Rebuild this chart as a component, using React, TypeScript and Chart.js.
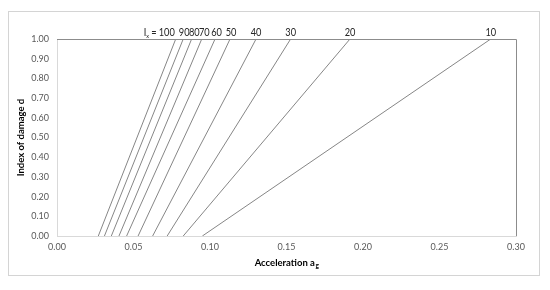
import React, { useEffect, useRef } from "react";
import { Chart, registerables } from "chart.js";

Chart.register(...registerables);

const intensities = [100, 90, 80, 70, 60, 50, 40, 30, 20, 10];
const startAccel = [0.027, 0.031, 0.0355, 0.0405, 0.0455, 0.053, 0.0625, 0.072, 0.0825, 0.095];
const endAccel = [0.0776, 0.0825, 0.088, 0.0946, 0.1033, 0.1131, 0.1301, 0.1527, 0.1915, 0.2835];
const xTicks = [0, 0.05, 0.1, 0.15, 0.2, 0.25, 0.3];
const yTicks = [0, 0.1, 0.2, 0.3, 0.4, 0.5, 0.6, 0.7, 0.8, 0.9, 1.0];

const FONT = "Lato, 'Open Sans', sans-serif";
// horizontal nudges of the top labels (layout only)
const labelNudge = [-9, 1, 2.7, 2.5, 1.5, 1, 0, 0, 0, 0];
const SQUEEZE = 0.84;

function drawSqueezed(ctx: any, text: string, x: number, y: number, align: string) {
  ctx.save();
  ctx.translate(x, y);
  ctx.scale(SQUEEZE, 1);
  ctx.textAlign = align;
  ctx.fillText(text, 0, 0);
  ctx.restore();
}

const overlayPlugin = {
  id: "overlay",
  afterDraw(chart: any) {
    const { ctx, chartArea, scales } = chart;
    const xs = scales.x;
    ctx.save();
    ctx.strokeStyle = "#8c8c8c";
    ctx.lineWidth = 1;
    ctx.beginPath();
    ctx.moveTo(chartArea.left, chartArea.top + 0.5);
    ctx.lineTo(chartArea.right + 0.5, chartArea.top + 0.5);
    ctx.lineTo(chartArea.right + 0.5, chartArea.bottom);
    ctx.stroke();

    ctx.fillStyle = "#262626";
    ctx.textBaseline = "alphabetic";
    const baseY = chartArea.top - 3;
    intensities.forEach((v, i) => {
      const px = xs.getPixelForValue(endAccel[i]) + labelNudge[i];
      ctx.font = `11px ${FONT}`;
      drawSqueezed(ctx, String(v), px, baseY, "center");
      if (i === 0) {
        const w = ctx.measureText(String(v)).width * SQUEEZE;
        let left = px - w / 2 - 2;
        drawSqueezed(ctx, "=", left, baseY, "right");
        left -= ctx.measureText("= ").width * SQUEEZE;
        ctx.font = `6.5px ${FONT}`;
        drawSqueezed(ctx, "x", left, baseY + 2, "right");
        const wx = ctx.measureText("x").width * SQUEEZE;
        ctx.font = `11px ${FONT}`;
        drawSqueezed(ctx, "I", left - wx, baseY, "right");
      }
    });

    ctx.fillStyle = "#000000";
    ctx.font = `bold 9.5px ${FONT}`;
    const main = "Acceleration a";
    const wMain = ctx.measureText(main).width;
    ctx.font = `bold 6.5px ${FONT}`;
    const wSub = ctx.measureText("g").width;
    const cx = (chartArea.left + chartArea.right) / 2;
    const start = cx - (wMain + wSub) / 2;
    const ty = 266;
    ctx.textAlign = "left";
    ctx.font = `bold 9.5px ${FONT}`;
    ctx.fillText(main, start, ty);
    ctx.font = `bold 6.5px ${FONT}`;
    ctx.fillText("g", start + wMain + 0.5, ty + 2);
    ctx.restore();
  },
};

export default function App() {
  const ref = useRef<HTMLCanvasElement>(null);
  useEffect(() => {
    document.body.style.margin = "0";
    const datasets = intensities.map((v, i) => ({
      label: `I = ${v}`,
      data: [
        { x: startAccel[i], y: 0 },
        { x: endAccel[i], y: 1 },
      ],
      borderColor: "#868686",
      borderWidth: 1,
      pointRadius: 0,
      showLine: true,
      fill: false,
    }));
    const chart = new Chart(ref.current!, {
      type: "scatter",
      data: { datasets },
      plugins: [overlayPlugin],
      options: {
        animation: false,
        responsive: false,
        layout: { padding: { left: 15, top: 39, right: 34, bottom: 20 } },
        plugins: { legend: { display: false }, tooltip: { enabled: false } },
        scales: {
          x: {
            type: "linear",
            min: 0,
            max: 0.3,
            afterBuildTicks: (s: any) => {
              s.ticks = xTicks.map((v) => ({ value: v }));
            },
            afterFit: (s: any) => {
              s.height = 34;
            },
            grid: { display: false, drawTicks: true, tickLength: 4, tickColor: "#d9d9d9" },
            border: { display: true, color: "#d9d9d9" },
            ticks: {
              color: "#595959",
              font: { family: FONT, size: 9 },
              padding: 2,
              maxRotation: 0,
              callback: (v: any) => Number(v).toFixed(2),
            },
            title: { display: false },
          },
          y: {
            type: "linear",
            min: 0,
            max: 1,
            afterBuildTicks: (s: any) => {
              s.ticks = yTicks.map((v) => ({ value: v }));
            },
            afterFit: (s: any) => {
              s.width = 42;
            },
            grid: { display: false, drawTicks: true, tickLength: 4, tickColor: "#d9d9d9" },
            border: { display: true, color: "#d9d9d9" },
            ticks: {
              color: "#595959",
              font: { family: FONT, size: 9 },
              padding: 4,
              callback: (v: any) => Number(v).toFixed(2),
            },
            title: {
              display: true,
              text: "Index of damage d",
              color: "#000000",
              font: { family: FONT, size: 9.5, weight: "bold" },
              padding: 0,
            },
          },
        },
      },
    });
    return () => chart.destroy();
  }, []);
  return (
    <div style={{ position: "relative", width: 550, height: 290 }}>
      <div
        style={{
          position: "absolute",
          left: 8,
          top: 11,
          width: 532,
          height: 265,
          border: "1px solid #d4d4d4",
          boxSizing: "border-box",
          background: "#ffffff",
        }}
      />
      <canvas ref={ref} width={550} height={290} style={{ position: "absolute", left: 0, top: 0 }} />
    </div>
  );
}
